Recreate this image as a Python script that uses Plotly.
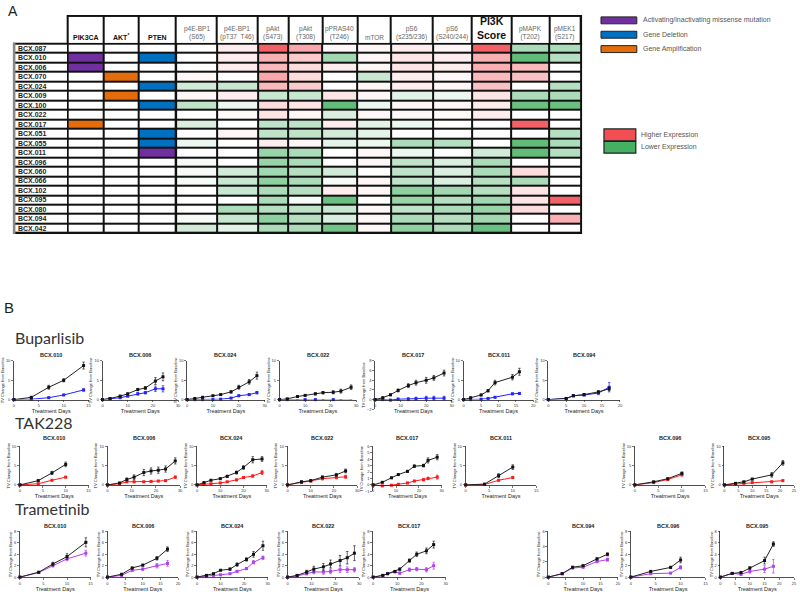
import plotly.graph_objects as go

W, H = 800, 592

# ---------------- Panel A data ----------------
ROWS = ["BCX.087", "BCX.010", "BCX.006", "BCX.070", "BCX.024", "BCX.009", "BCX.100",
        "BCX.022", "BCX.017", "BCX.051", "BCX.055", "BCX.011", "BCX.096", "BCX.060",
        "BCX.066", "BCX.102", "BCX.095", "BCX.080", "BCX.094", "BCX.042"]
GENE_COLS = ["PIK3CA", "AKT<sup>*</sup>", "PTEN"]
EXPR_COLS = ["p4E-BP1<br>(S65)", "p4E-BP1<br>(pT37  T46)", "pAkt<br>(S473)", "pAkt<br>(T308)",
             "pPRAS40<br>(T246)", "mTOR", "pS6<br>(s235/236)", "pS6<br>(S240/244)",
             "PI3K<br>Score", "pMAPK<br>(T202)", "pMEK1<br>(S217)"]
# genomic status: 0 none, 1 missense mutation, 2 gene deletion, 3 gene amplification
PIK3CA = [0, 1, 1, 0, 0, 0, 0, 0, 3, 0, 0, 0, 0, 0, 0, 0, 0, 0, 0, 0]
AKT    = [0, 0, 0, 3, 0, 3, 0, 0, 0, 0, 0, 0, 0, 0, 0, 0, 0, 0, 0, 0]
PTEN   = [0, 2, 0, 0, 2, 0, 2, 0, 0, 2, 2, 1, 0, 0, 0, 0, 0, 0, 0, 0]
# relative expression (-1 lower ... +1 higher)
EXPR = [
    [0.00, 0.10, 0.90, 0.50, 0.05, 0.05, 0.10, 0.05, 0.90, -0.45, -0.45],
    [0.00, 0.10, 0.45, 0.30, -0.50, 0.05, 0.15, 0.10, 0.45, -0.85, -0.40],
    [0.00, 0.10, 0.40, 0.20, 0.10, 0.05, 0.15, 0.10, 0.45, 0.40, 0.00],
    [0.05, 0.00, 0.50, 0.20, 0.00, -0.30, 0.10, 0.05, 0.40, 0.35, 0.00],
    [-0.25, -0.30, 0.40, 0.30, 0.00, 0.05, 0.10, 0.05, 0.35, 0.00, -0.40],
    [0.05, 0.10, -0.30, -0.30, 0.15, 0.05, -0.15, -0.10, 0.15, -0.45, -0.45],
    [-0.35, -0.10, 0.20, 0.15, -0.85, -0.10, 0.05, 0.05, 0.10, -0.80, -0.80],
    [0.00, 0.03, 0.15, 0.05, -0.20, 0.05, 0.05, 0.03, 0.10, 0.00, 0.00],
    [-0.20, 0.00, -0.35, -0.35, 0.10, -0.15, -0.10, 0.00, 0.00, 0.90, 0.00],
    [0.00, 0.05, -0.35, -0.35, -0.25, -0.15, 0.00, 0.00, 0.00, 0.00, -0.40],
    [-0.10, 0.00, 0.10, 0.05, -0.15, -0.10, -0.45, -0.40, 0.00, -0.85, -0.45],
    [0.00, 0.00, -0.55, -0.45, 0.00, 0.05, -0.10, 0.00, -0.25, -0.85, -0.40],
    [-0.05, 0.00, -0.55, -0.45, 0.00, 0.05, -0.35, -0.20, -0.45, 0.00, 0.00],
    [-0.05, -0.25, -0.50, -0.40, -0.25, 0.00, -0.35, -0.20, -0.45, 0.20, 0.00],
    [-0.05, -0.30, -0.60, -0.45, -0.05, 0.05, -0.35, -0.20, -0.40, -0.45, 0.00],
    [0.00, -0.30, -0.45, -0.40, 0.10, 0.05, -0.60, -0.50, -0.40, 0.15, 0.00],
    [0.00, 0.00, -0.45, -0.05, -0.80, 0.00, -0.55, -0.40, -0.50, 0.15, 0.90],
    [0.00, -0.45, -0.40, -0.35, -0.30, 0.05, -0.35, -0.45, -0.55, 0.20, 0.00],
    [-0.05, -0.30, -0.60, -0.40, -0.20, 0.05, -0.45, -0.40, -0.50, 0.00, 0.45],
    [-0.25, -0.15, -0.45, -0.45, -0.75, 0.05, -0.60, -0.45, -0.80, 0.00, 0.00],
]
GENE_LEGEND = ["Activating/inactivating missense mutation", "Gene Deletion", "Gene Amplification"]
EXPR_LEGEND = ["Higher Expression", "Lower Expression"]

# ---------------- Panel B data ----------------
DRUGS = ["Buparlisib", "TAK228", "Trametinib"]

BUP_MODELS = ["BCX.010", "BCX.006", "BCX.024", "BCX.022", "BCX.017", "BCX.011", "BCX.094"]
BUP_DAYS = [[0, 3.5, 7, 10, 14], [0, 3, 7, 10, 14, 17, 21, 24], [0, 3, 6, 10, 13, 17, 20, 24, 27],
            [0, 3, 7, 10, 14, 17, 21, 24, 28], [0, 3, 6, 9, 13, 16, 20, 23, 27],
            [0, 2, 5, 7, 9, 14, 16], [0, 5, 7, 10, 14, 17]]
BUP_CTRL = [[0, 0.6, 3.2, 5.0, 8.8], [0, 0.3, 0.9, 1.5, 2.6, 3.0, 4.8, 5.9],
            [0, 0.3, 0.6, 1.0, 1.3, 2.0, 3.2, 4.6, 6.2], [0, 0.2, 0.8, 1.1, 1.5, 1.8, 1.9, 2.2, 3.2],
            [0, 0.4, 1.0, 1.9, 2.9, 3.5, 4.0, 4.5, 5.5], [0, 0.5, 1.2, 2.3, 4.4, 5.8, 7.2],
            [0, 0.3, 1.0, 1.3, 2.0, 2.8]]
BUP_CTRL_ERR = [[0, 0.2, 0.5, 0.4, 0.9], [0, 0.1, 0.2, 0.2, 0.3, 0.4, 0.9, 1.0],
                [0, 0.1, 0.1, 0.15, 0.2, 0.3, 0.5, 0.6, 0.9], [0, 0.1, 0.15, 0.2, 0.3, 0.3, 0.4, 0.5, 0.6],
                [0, 0.1, 0.2, 0.3, 0.4, 0.5, 0.6, 0.5, 0.6], [0, 0.1, 0.2, 0.3, 0.6, 0.7, 0.9],
                [0, 0.1, 0.2, 0.2, 0.3, 0.5]]
BUP_TRT = [[0, 0.1, 0.5, 1.2, 2.5], [0, 0.2, 0.5, 0.9, 1.5, 1.8, 2.8, 2.8],
           [0, 0, 0, 0, 0.1, 0.4, 1.0, 1.3, 1.8], [0, 0, -0.05, 0, 0, -0.05, 0, -0.05, -0.1],
           [0, 0, -0.1, 0.1, 0.1, 0.2, 0.3, 0.3, 0.3], [0, 0, 0.1, 0.3, 0.6, 1.5, 1.6],
           [0, 0.3, 1.0, 1.2, 1.7, 3.2]]
BUP_TRT_ERR = [[0, 0.05, 0.1, 0.15, 0.3], [0, 0.05, 0.1, 0.15, 0.3, 0.3, 0.7, 0.8],
               [0, 0, 0, 0.05, 0.1, 0.1, 0.2, 0.2, 0.3], [0, 0.05, 0.05, 0.05, 0.05, 0.05, 0.05, 0.05, 0.1],
               [0, 0.05, 0.1, 0.2, 0.3, 0.3, 0.4, 0.4, 0.4], [0, 0, 0.05, 0.1, 0.1, 0.2, 0.2],
               [0, 0.1, 0.2, 0.2, 0.4, 1.2]]

TAK_MODELS = ["BCX.010", "BCX.006", "BCX.024", "BCX.022", "BCX.017", "BCX.011", "BCX.096", "BCX.095"]
TAK_DAYS = [[0, 4, 7, 10], [0, 5, 8, 11, 15, 18, 21, 24, 28], [0, 3, 6, 10, 13, 17, 20, 24, 28],
            [0, 6, 10, 15, 21, 25], [0, 4, 8, 11, 15, 18, 22, 24, 28], [0, 4, 7, 10],
            [0, 4, 7, 10], [0, 4, 7, 10, 17, 21]]
TAK_CTRL = [[0, 1.1, 3.1, 5.3], [0, 0.5, 1.4, 2.0, 3.2, 3.6, 3.8, 4.1, 6.2],
            [0, 0.6, 1.2, 1.6, 2.2, 3.2, 4.5, 6.5, 6.7], [0, 0.8, 1.1, 2.0, 2.6, 3.6],
            [0, 0.4, 1.1, 1.6, 2.1, 2.9, 3.0, 3.8, 4.3], [0, 0.2, 2.4, 4.6],
            [0, 0.8, 1.6, 3.0], [0, 0.4, 0.8, 1.5, 2.6, 5.7]]
TAK_CTRL_ERR = [[0, 0.2, 0.4, 0.6], [0, 0.1, 0.4, 0.6, 0.8, 0.8, 0.8, 0.8, 0.8],
                [0, 0.1, 0.1, 0.2, 0.3, 0.4, 0.5, 0.8, 0.6], [0, 0.2, 0.2, 0.3, 0.3, 0.5],
                [0, 0.05, 0.1, 0.1, 0.15, 0.2, 0.2, 0.4, 0.4], [0, 0.05, 0.5, 0.6],
                [0, 0.1, 0.2, 0.3], [0, 0.1, 0.1, 0.2, 0.6, 0.6]]
TAK_TRT = [[0, 0.3, 1.2, 2.0], [0, 0.3, 0.8, 0.8, 0.8, 0.9, 1.0, 1.1, 2.0],
           [0, 0.1, 0.3, 0.5, 0.8, 1.3, 1.9, 2.3, 3.2], [0, 0.6, 1.0, 1.6, 1.9, 2.1],
           [0, -0.15, -0.05, 0.1, 0.3, 0.6, 0.8, 1.0, 1.2], [0, 0.1, 1.2, 1.9],
           [0, 0.6, 1.4, 2.6], [0, 0.2, 0.4, 0.6, 0.8, 1.1]]
TAK_TRT_ERR = [[0, 0.05, 0.1, 0.2], [0, 0.05, 0.2, 0.2, 0.15, 0.15, 0.15, 0.15, 0.3],
               [0, 0.05, 0.05, 0.1, 0.1, 0.2, 0.2, 0.3, 0.5], [0, 0.1, 0.2, 0.3, 0.3, 0.4],
               [0, 0.05, 0.05, 0.05, 0.1, 0.1, 0.15, 0.2, 0.3], [0, 0.05, 0.2, 0.2],
               [0, 0.1, 0.2, 0.3], [0, 0.05, 0.1, 0.1, 0.15, 0.2]]

TRA_MODELS = ["BCX.010", "BCX.006", "BCX.024", "BCX.022", "BCX.017", "BCX.094", "BCX.096", "BCX.095"]
TRA_DAYS = [[0, 4, 7, 10, 14], [0, 4, 7, 10, 14, 17], [0, 4, 7, 10, 14, 17, 21, 24, 28],
            [0, 4, 8, 11, 15, 18, 22, 25, 28], [0, 4, 6, 9, 11, 15, 18, 22, 25],
            [0, 4, 7, 10, 14, 17], [0, 4, 8, 10], [0, 4, 7, 10, 15, 18]]
TRA_CTRL = [[0, 0.86, 2.3, 3.6, 6.1], [0, 0.5, 1.6, 2.1, 3.3, 4.9],
            [0, 0.3, 0.6, 1.2, 1.4, 2.2, 3.1, 4.0, 5.5], [0, 0.3, 0.9, 1.4, 1.8, 2.3, 2.9, 3.4, 4.2],
            [0, 0.3, 0.6, 1.0, 1.4, 2.9, 4.0, 4.6, 5.7], [0, 0.45, 1.3, 1.5, 2.4, 3.0],
            [0, 1.0, 1.7, 3.0], [0, 0.65, 0.8, 1.6, 2.9, 5.8]]
TRA_CTRL_ERR = [[0, 0.1, 0.3, 0.5, 0.8], [0, 0.1, 0.15, 0.15, 0.3, 0.4],
                [0, 0.05, 0.1, 0.1, 0.2, 0.3, 0.3, 0.5, 0.8], [0, 0.1, 0.3, 0.5, 0.6, 0.7, 0.9, 1.1, 1.3],
                [0, 0.05, 0.1, 0.1, 0.2, 0.3, 0.4, 0.5, 0.6], [0, 0.05, 0.1, 0.1, 0.15, 0.2],
                [0, 0.1, 0.2, 0.5], [0, 0.1, 0.2, 0.2, 0.6, 0.4]]
TRA_TRT = [[0, 0.8, 2.0, 3.2, 4.2], [0, 0.3, 1.2, 1.4, 2.0, 2.4],
           [0, 0.1, 0.3, 0.4, 0.6, 1.0, 1.5, 2.6, 3.4], [0, 0.2, 0.6, 0.9, 0.9, 1.0, 1.3, 1.3, 1.3],
           [0, 0.3, 0.6, 0.9, 0.7, 1.3, 1.4, 1.3, 2.0], [0, 0.45, 1.2, 1.3, 2.05, 2.3],
           [0, 0.6, 0.7, 1.7], [0, 0.65, 0.5, 1.0, 1.4, 1.9]]
TRA_TRT_ERR = [[0, 0.1, 0.2, 0.3, 0.5], [0, 0.1, 0.2, 0.2, 0.4, 0.5],
               [0, 0.05, 0.05, 0.1, 0.1, 0.2, 0.2, 0.3, 0.3], [0, 0.1, 0.2, 0.3, 0.4, 0.4, 0.5, 0.5, 0.4],
               [0, 0.05, 0.1, 0.1, 0.2, 0.3, 0.3, 0.4, 0.6], [0, 0.05, 0.1, 0.1, 0.15, 0.2],
               [0, 0.1, 0.1, 0.3], [0, 0.1, 0.2, 0.3, 0.6, 1.2]]

# ---------------- layout constants (pixels) ----------------
FONT = "Liberation Sans, Arial, sans-serif"
COL_EDGES = [67, 103, 138, 176, 217, 258, 289, 323, 358, 392, 434, 473, 513, 551, 583]
LABEL_EDGES = [13, 67]
HEAD_TOP, HEAD_BOT, TABLE_BOT = 13, 41, 232
ROW_H = (TABLE_BOT - HEAD_BOT) / len(ROWS)
ROW_EDGES = [HEAD_BOT + i * ROW_H for i in range(len(ROWS) + 1)]

C_PURPLE, C_BLUE, C_ORANGE = "#7030a0", "#0070c0", "#e46c0a"
C_RED, C_GREEN = "#f24f55", "#45b062"
TRT_COLORS = {"Buparlisib": "#2323ff", "TAK228": "#ff1a1a", "Trametinib": "#b23ff0"}


def px_x(p):
    return p / W


def px_y(p):
    return 1 - p / H


fig = go.Figure()

# table axis: pixel coordinate system over the top 600x240 px
TW, TH = 600, 240
lay = dict(
    xaxis=dict(domain=[0, TW / W], range=[0, TW], visible=False, fixedrange=True),
    yaxis=dict(domain=[1 - TH / H, 1], range=[TH, 0], visible=False, fixedrange=True),
)

shapes = []
# black backgrounds that show through the cell gaps as grid lines
shapes.append(dict(type="rect", xref="x", yref="y", x0=COL_EDGES[0] - 1, x1=COL_EDGES[-1] + 1,
                   y0=HEAD_TOP - 1, y1=HEAD_BOT + 1, fillcolor="#111", line_width=0, layer="below"))
shapes.append(dict(type="rect", xref="x", yref="y", x0=LABEL_EDGES[0] - 1, x1=COL_EDGES[-1] + 1,
                   y0=HEAD_BOT - 1, y1=TABLE_BOT + 1, fillcolor="#111", line_width=0, layer="below"))
# grey left edge of the row-label column
shapes.append(dict(type="rect", xref="x", yref="y", x0=LABEL_EDGES[0] - 1, x1=LABEL_EDGES[0] + 1.5,
                   y0=HEAD_BOT - 1, y1=TABLE_BOT + 1, fillcolor="#888", line_width=0, layer="above"))

all_cols = GENE_COLS + EXPR_COLS
# header cells
fig.add_trace(go.Heatmap(z=[[0] * len(all_cols)], x=COL_EDGES, y=[HEAD_TOP, HEAD_BOT],
                         colorscale=[[0, "white"], [1, "white"]], showscale=False, xgap=2, ygap=2,
                         hoverinfo="skip", xaxis="x", yaxis="y"))
# row label cells
fig.add_trace(go.Heatmap(z=[[0] for _ in ROWS], x=LABEL_EDGES, y=ROW_EDGES,
                         colorscale=[[0, "white"], [1, "white"]], showscale=False, xgap=2, ygap=2,
                         hoverinfo="skip", xaxis="x", yaxis="y"))
# genomic cells
gene_z = [[PIK3CA[i], AKT[i], PTEN[i]] for i in range(len(ROWS))]
fig.add_trace(go.Heatmap(z=gene_z, x=COL_EDGES[:4], y=ROW_EDGES, zmin=0, zmax=3,
                         colorscale=[[0, "white"], [1 / 3, C_PURPLE], [2 / 3, C_BLUE], [1, C_ORANGE]],
                         showscale=False, xgap=2, ygap=2, hoverinfo="skip", xaxis="x", yaxis="y"))
# expression cells
fig.add_trace(go.Heatmap(z=EXPR, x=COL_EDGES[3:], y=ROW_EDGES, zmin=-1, zmax=1,
                         colorscale=[[0, C_GREEN], [0.5, "#ffffff"], [1, C_RED]],
                         showscale=False, xgap=2, ygap=2, hoverinfo="skip", xaxis="x", yaxis="y"))

annotations = []
# header labels
for j, name in enumerate(all_cols):
    cx = (COL_EDGES[j] + COL_EDGES[j + 1]) / 2
    if j < len(GENE_COLS):
        txt, fnt = "<b>%s</b>" % name, dict(family=FONT, size=7, color="#111")
    elif name.startswith("PI3K"):
        txt, fnt = "<b>%s</b>" % name, dict(family=FONT, size=10.5, color="#111")
    else:
        txt, fnt = name, dict(family=FONT, size=6.5, color="#666")
    annotations.append(dict(x=cx, y=HEAD_BOT - 1, xref="x", yref="y", text=txt, showarrow=False,
                            xanchor="center", yanchor="bottom", font=fnt, align="center"))
# row labels
for i, r in enumerate(ROWS):
    annotations.append(dict(x=LABEL_EDGES[0] + 2, y=(ROW_EDGES[i] + ROW_EDGES[i + 1]) / 2,
                            xref="x", yref="y", text="<b>%s</b>" % r, showarrow=False,
                            xanchor="left", yanchor="middle", font=dict(family=FONT, size=7, color="#222")))

# panel letters
annotations.append(dict(x=px_x(5), y=px_y(8), xref="paper", yref="paper", text="A", showarrow=False,
                        xanchor="left", yanchor="middle", font=dict(family=FONT, size=14, color="#222")))
annotations.append(dict(x=px_x(1), y=px_y(307), xref="paper", yref="paper", text="B", showarrow=False,
                        xanchor="left", yanchor="middle", font=dict(family=FONT, size=15, color="#222")))

# legends
for k, (lab, col) in enumerate(zip(GENE_LEGEND, [C_PURPLE, C_BLUE, C_ORANGE])):
    y0 = 14 + k * 14.5
    shapes.append(dict(type="rect", xref="paper", yref="paper", x0=px_x(603), x1=px_x(639),
                       y0=px_y(y0), y1=px_y(y0 + 7), fillcolor=col, line=dict(color="#222", width=1)))
    annotations.append(dict(x=px_x(643), y=px_y(y0 + 3.5), xref="paper", yref="paper", text=lab,
                            showarrow=False, xanchor="left", yanchor="middle",
                            font=dict(family=FONT, size=7, color="#555")))
for k, (lab, col) in enumerate(zip(EXPR_LEGEND, [C_RED, C_GREEN])):
    y0 = 127 + k * 12.5
    shapes.append(dict(type="rect", xref="paper", yref="paper", x0=px_x(606), x1=px_x(638),
                       y0=px_y(y0), y1=px_y(y0 + 12), fillcolor=col, line=dict(color="#222", width=1.2)))
    annotations.append(dict(x=px_x(641), y=px_y(y0 + 6), xref="paper", yref="paper", text=lab,
                            showarrow=False, xanchor="left", yanchor="middle",
                            font=dict(family=FONT, size=7, color="#555")))

# ---------------- Panel B ----------------
ROW_SPECS = {
    "Buparlisib": dict(title_y=337, top=361, zero=400, head_y=355,
                       xs=[(13, 88), (102, 178), (187, 265), (280, 357), (376, 453), (465, 535), (550, 622)],
                       yr=[(0, 10, 5)] * 4 + [(-2, 8, 2)] + [(0, 10, 5)] * 2,
                       xmax=[15, 30, 30, 30, 30, 20, 20]),
    "TAK228": dict(title_y=423, top=447, zero=486, head_y=439,
                   xs=[(19, 88), (107, 180), (197, 267), (288, 358), (374, 443), (467, 538), (637, 708), (727, 797)],
                   yr=[(0, 10, 5)] * 4 + [(-1, 6, 1)] + [(0, 10, 5)] * 3,
                   xmax=[15, 30, 30, 30, 30, 15, 15, 25]),
    "Trametinib": dict(title_y=510, top=533, zero=579, head_y=527,
                       xs=[(19, 90), (107, 178), (197, 268), (288, 360), (374, 447), (550, 620), (633, 708), (723, 797)],
                       yr=[(0, 8, 2)] * 5 + [(0, 6, 2)] + [(0, 8, 2)] * 2,
                       xmax=[15, 20, 30, 30, 30, 20, 15, 25]),
}
DRUG_DATA = {
    "Buparlisib": (BUP_MODELS, BUP_DAYS, BUP_CTRL, BUP_CTRL_ERR, BUP_TRT, BUP_TRT_ERR),
    "TAK228": (TAK_MODELS, TAK_DAYS, TAK_CTRL, TAK_CTRL_ERR, TAK_TRT, TAK_TRT_ERR),
    "Trametinib": (TRA_MODELS, TRA_DAYS, TRA_CTRL, TRA_CTRL_ERR, TRA_TRT, TRA_TRT_ERR),
}

tick_font = dict(family=FONT, size=4, color="#333")
idx = 2
for drug in DRUGS:
    spec = ROW_SPECS[drug]
    models, days, ctrl, cerr, trt, terr = DRUG_DATA[drug]
    annotations.append(dict(x=px_x(12), y=px_y(spec["title_y"]), xref="paper", yref="paper", text=drug,
                            showarrow=False, xanchor="left", yanchor="middle",
                            font=dict(family="Lato, Open Sans, sans-serif", size=16, color="#333")))
    for k, model in enumerate(models):
        x0, x1 = spec["xs"][k]
        ymin, ymax, ydt = spec["yr"][k]
        top, zero = spec["top"], spec["zero"]
        ppu = (zero - top) / ymax
        bottom = zero + (-ymin) * ppu
        xmax = spec["xmax"][k]
        xdt = 10 if xmax == 30 else 5
        xn, yn = "x%d" % idx, "y%d" % idx
        lay["xaxis%d" % idx] = dict(
            domain=[px_x(x0), px_x(x1)], range=[0, xmax], anchor="free", position=px_y(zero),
            showline=True, linecolor="#222", linewidth=0.8, ticks="outside", ticklen=2, tickwidth=0.6,
            tickcolor="#222", dtick=xdt, tick0=0, showgrid=False, zeroline=False, tickfont=tick_font,
            title=dict(text="Treatment Days", font=dict(family=FONT, size=5.5, color="#222"), standoff=0),
            fixedrange=True)
        lay["yaxis%d" % idx] = dict(
            domain=[px_y(bottom), px_y(top)], range=[ymin, ymax], anchor=xn,
            showline=True, linecolor="#222", linewidth=0.8, ticks="outside", ticklen=2, tickwidth=0.6,
            tickcolor="#222", dtick=ydt, tick0=0, showgrid=False, zeroline=False, tickfont=tick_font,
            title=dict(text="TV Change from Baseline", font=dict(family=FONT, size=4, color="#222"), standoff=1),
            fixedrange=True)
        fig.add_trace(go.Scatter(x=days[k], y=trt[k], mode="lines+markers", xaxis=xn, yaxis=yn,
                                 line=dict(color=TRT_COLORS[drug], width=1),
                                 marker=dict(symbol="square", size=3, color=TRT_COLORS[drug]),
                                 error_y=dict(type="data", array=terr[k], color=TRT_COLORS[drug],
                                              thickness=0.7, width=1.2),
                                 cliponaxis=False, showlegend=False, hoverinfo="skip"))
        fig.add_trace(go.Scatter(x=days[k], y=ctrl[k], mode="lines+markers", xaxis=xn, yaxis=yn,
                                 line=dict(color="#222", width=1),
                                 marker=dict(symbol="square", size=3, color="#111"),
                                 error_y=dict(type="data", array=cerr[k], color="#222",
                                              thickness=0.7, width=1.2),
                                 cliponaxis=False, showlegend=False, hoverinfo="skip"))
        annotations.append(dict(x=0.5, y=px_y(spec["head_y"]), xref="%s domain" % xn, yref="paper",
                                text="<b>%s</b>" % model, showarrow=False, xanchor="center",
                                yanchor="middle", font=dict(family=FONT, size=5.5, color="#222")))
        idx += 1

fig.update_layout(
    width=W, height=H, margin=dict(l=0, r=0, t=0, b=0), paper_bgcolor="white", plot_bgcolor="rgba(0,0,0,0)",
    showlegend=False, shapes=shapes, annotations=annotations, hovermode=False, **lay)

fig.write_html("out.html", config={"displayModeBar": False, "staticPlot": True},
               post_script="document.body.style.margin='0px';")
